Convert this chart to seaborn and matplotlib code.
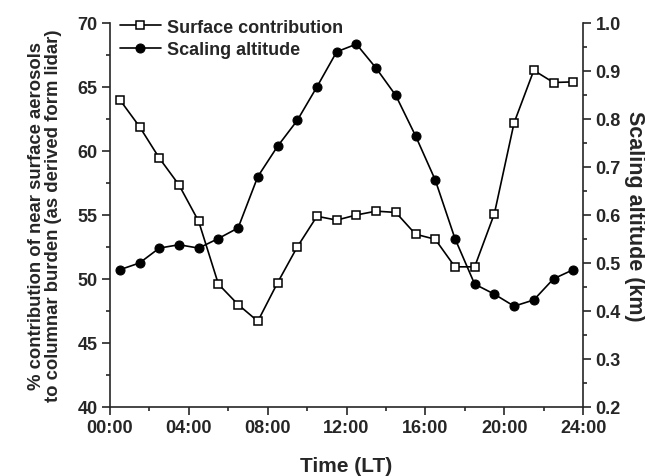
import numpy as np
import pandas as pd
import matplotlib
matplotlib.use("Agg")
import matplotlib.pyplot as plt
import seaborn as sns
from matplotlib.ticker import MultipleLocator, FormatStrFormatter

# hourly means, plotted at half past each hour
hours = [h + 0.5 for h in range(24)]
surface = [64.0, 61.9, 59.45, 57.35, 54.5, 49.6, 48.0, 46.7, 49.7, 52.5, 54.9, 54.6,
           55.0, 55.3, 55.2, 53.5, 53.1, 50.95, 50.95, 55.1, 62.2, 66.3, 65.35, 65.4]
altitude = [0.486, 0.500, 0.531, 0.538, 0.531, 0.551, 0.573, 0.680, 0.743, 0.797, 0.867, 0.940,
            0.956, 0.906, 0.849, 0.765, 0.673, 0.551, 0.456, 0.435, 0.410, 0.423, 0.467, 0.486]
xtick_labels = ['00:00', '04:00', '08:00', '12:00', '16:00', '20:00', '24:00']

df = pd.DataFrame({'hour': hours, 'surface': surface, 'altitude': altitude})

sns.set_style("ticks")
plt.rcParams['font.family'] = ['Liberation Sans', 'DejaVu Sans']
plt.rcParams['font.weight'] = 'bold'
plt.rcParams['axes.linewidth'] = 1.2

fig = plt.figure(figsize=(6.45, 4.77), dpi=100)
ax = fig.add_axes([0.1705, 0.1447, 0.7335, 0.805])
ax2 = ax.twinx()

sns.lineplot(data=df, x='hour', y='surface', ax=ax, color='black', lw=1.2,
             marker='s', markersize=6, markerfacecolor='white',
             markeredgecolor='black', markeredgewidth=1.1, label='Surface contribution',
             legend=False)
sns.lineplot(data=df, x='hour', y='altitude', ax=ax2, color='black', lw=1.2,
             marker='o', markersize=6.5, markerfacecolor='black',
             markeredgecolor='black', label='Scaling altitude', legend=False)

ax.set_xlim(0, 24)
ax.set_ylim(40, 70)
ax2.set_ylim(0.2, 1.0)
ax.set_xticks(range(0, 25, 4))
ax.set_xticklabels(xtick_labels)
ax.xaxis.set_minor_locator(MultipleLocator(2))
ax.yaxis.set_major_locator(MultipleLocator(5))
ax.yaxis.set_minor_locator(MultipleLocator(2.5))
ax2.yaxis.set_major_locator(MultipleLocator(0.1))
ax2.yaxis.set_minor_locator(MultipleLocator(0.05))
ax2.yaxis.set_major_formatter(FormatStrFormatter('%.1f'))

for a in (ax, ax2):
    a.spines['top'].set_visible(False)
    a.tick_params(which='major', length=6, width=1.2, labelsize=13, direction='out', pad=3)
    a.tick_params(which='minor', length=3, width=1.2, direction='out')
ax.spines['right'].set_visible(False)
ax2.spines['left'].set_visible(False)
ax2.spines['bottom'].set_visible(False)

ax.set_xlabel('Time (LT)', fontsize=15, fontweight='bold', labelpad=14)
ax.set_ylabel('% contribution of near surface aerosols\nto columnar burden (as derived form lidar)',
              fontsize=13.3, fontweight='bold', labelpad=11, linespacing=1.0)
ax2.set_ylabel('Scaling altitude (km)', fontsize=15.5, fontweight='bold',
               rotation=270, va='center', ha='center')
ax2.yaxis.set_label_coords(1.108, 0.5)

h1, l1 = ax.get_legend_handles_labels()
h2, l2 = ax2.get_legend_handles_labels()
ax.legend(h1 + h2, l1 + l2, loc='upper left', frameon=False, fontsize=13,
          handlelength=2.3, handletextpad=0.3, borderaxespad=0.0,
          bbox_to_anchor=(0.005, 1.03), labelspacing=0.3)

fig.savefig('out.png', dpi=100)
